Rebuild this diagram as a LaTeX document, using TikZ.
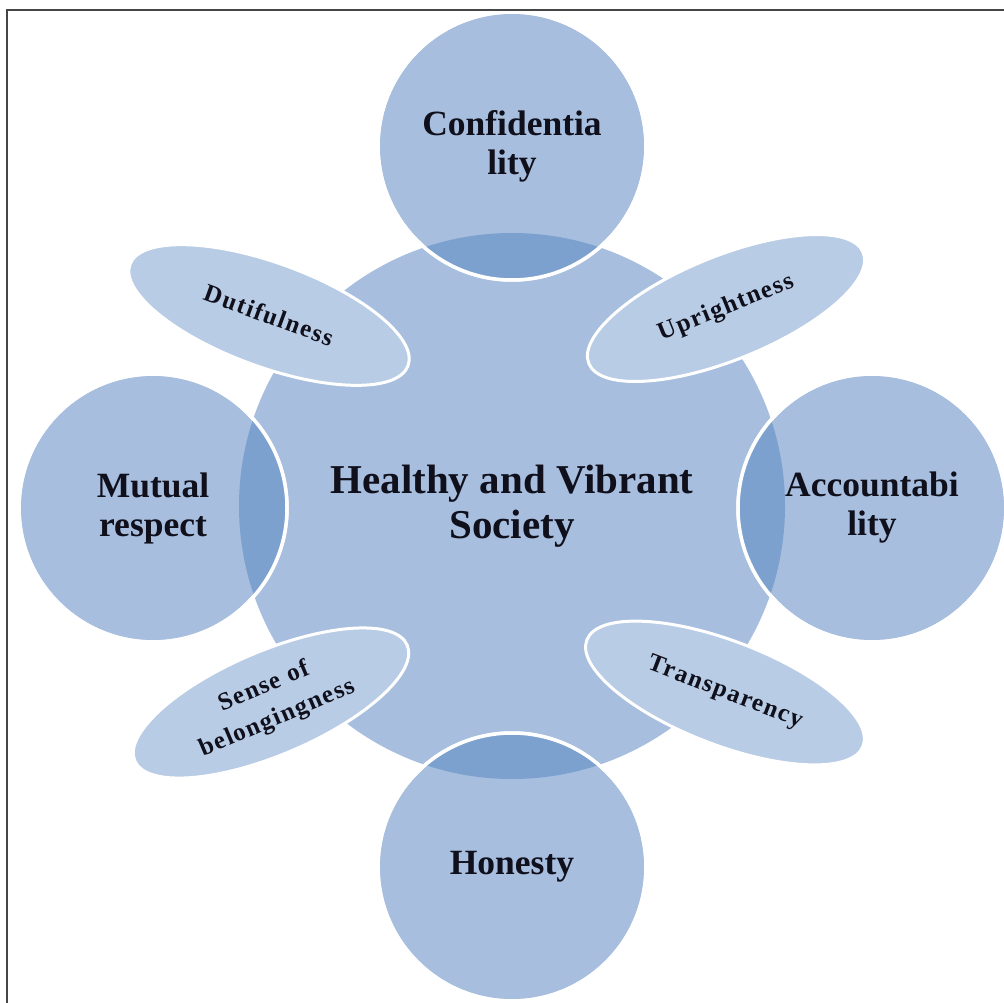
\documentclass[tikz,border=0pt]{standalone}
\usepackage{fontspec}
\setmainfont{Liberation Serif}
\newfontfamily\ellfont[LetterSpace=6]{Liberation Serif}
\usetikzlibrary{shapes.geometric}
\definecolor{mainblue}{RGB}{167,190,222}
\definecolor{lightblue}{RGB}{185,204,229}
\definecolor{lensblue}{RGB}{124,161,206}
\definecolor{txt}{RGB}{16,16,28}
\definecolor{framegray}{RGB}{70,70,70}
\begin{document}
\begin{tikzpicture}[x=1pt,y=-1pt,
  hub/.style={circle, fill=mainblue, minimum size=546pt, inner sep=0pt, text=txt,
    font=\bfseries\fontsize{41}{45}\selectfont, align=center},
  petal/.style={circle, fill=mainblue, draw=white, line width=3.5pt, minimum size=268pt,
    inner sep=0pt, text=txt, font=\bfseries\fontsize{35.5}{39}\selectfont, align=center},
  leaf/.style={ellipse, fill=lightblue, draw=white, line width=3pt, minimum width=296pt,
    minimum height=104pt, inner sep=0pt, text=txt,
    font=\ellfont\bfseries\fontsize{25}{34}\selectfont, align=center},
  rim/.style={draw=white, line width=3.5pt},
  framestyle/.style={draw=framegray, line width=2pt}
]
\useasboundingbox (0,0) rectangle (1004,1003);
\clip (0,0) rectangle (1004,1003);
\fill[white] (0,0) rectangle (1004,1003);

\node[hub] (hub) at (512,506) {Healthy and Vibrant\\Society};

\node[petal] (conf) at (512,146) {Confidentia\\lity};
\node[petal] (acc)  at (872,508) {Accountabi\\lity};
\node[petal] (hon)  at (512,867) {Honesty};
\node[petal] (mut)  at (153,508) {Mutual\\respect};

\foreach \p in {conf,acc,hon,mut}{
  \begin{scope}
    \clip (hub.center) circle (273);
    \fill[lensblue] (\p.center) circle (134);
  \end{scope}
  \draw[rim] (\p.center) circle (134);
}

\node[leaf, rotate=-20] (duti) at (269,315) {Dutifulness};
\node[leaf, rotate=22]  (upr)  at (726,308) {Uprightness};
\node[leaf, rotate=23]  (sob)  at (271,703) {Sense of\\belongingness};
\node[leaf, rotate=-21] (tra)  at (725,693) {Transparency};

\draw[framestyle] (7,1020) -- (7,10) -- (1020,10);
\end{tikzpicture}
\end{document}
